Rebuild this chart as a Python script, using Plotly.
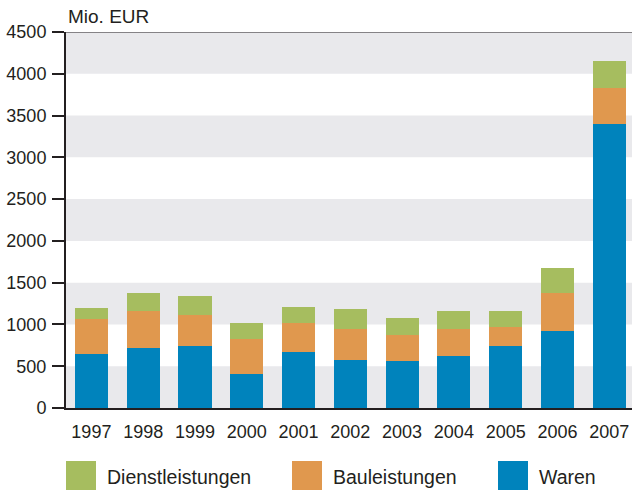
import plotly.graph_objects as go

# values in Mio. EUR
years = ["1997", "1998", "1999", "2000", "2001", "2002", "2003", "2004", "2005", "2006", "2007"]
waren = [650, 720, 745, 410, 675, 580, 565, 625, 745, 925, 3400]
bauleistungen = [410, 445, 370, 410, 345, 370, 310, 315, 230, 450, 430]
dienstleistungen = [140, 215, 230, 200, 190, 240, 205, 225, 180, 295, 320]
y_ticks = [0, 500, 1000, 1500, 2000, 2500, 3000, 3500, 4000, 4500]

series = [
    ("Waren", waren, "#0083BC"),
    ("Bauleistungen", bauleistungen, "#E0984E"),
    ("Dienstleistungen", dienstleistungen, "#A6BD5F"),
]

FONT = "Liberation Sans, Arial, sans-serif"
TEXT = "#231F20"

fig = go.Figure()
for name, vals, color in series:
    fig.add_trace(go.Bar(x=years, y=vals, name=name, marker_color=color,
                         marker_line_width=0, width=0.64, showlegend=False))

# grey bands behind the bars
for lo in y_ticks[:-1:2]:
    fig.add_shape(type="rect", xref="paper", yref="y", x0=0, x1=1, y0=lo, y1=lo + 500,
                  fillcolor="#E9E9EC", line_width=0, layer="below")

# thin line on top of the plot area
fig.add_shape(type="line", xref="paper", yref="y", x0=0, x1=1, y0=4500, y1=4500,
              line=dict(color=TEXT, width=1))

# hand-made legend with big swatches
legend_x = [66, 292, 498]
for (name, vals, color), lx in zip(reversed(series), legend_x):
    fig.add_shape(type="rect", xref="paper", yref="paper",
                  x0=(lx - 66) / 566, x1=(lx + 30 - 66) / 566,
                  y0=-(461 - 408) / 376, y1=-(495 - 408) / 376,
                  fillcolor=color, line_width=0)
    fig.add_annotation(text=name, xref="paper", yref="paper",
                       x=(lx + 39 - 66) / 566, y=-(477 - 408) / 376,
                       xanchor="left", yanchor="middle", showarrow=False,
                       font=dict(size=19.5, color=TEXT, family=FONT))

fig.add_annotation(text="Mio. EUR", xref="paper", yref="paper", x=0, y=1,
                   xanchor="left", yanchor="bottom", yshift=3, showarrow=False,
                   font=dict(size=19, color=TEXT, family=FONT))

fig.update_layout(
    barmode="stack",
    width=632, height=490,
    margin=dict(l=66, r=0, t=32, b=82),
    paper_bgcolor="white", plot_bgcolor="white",
    font=dict(family=FONT, size=18, color=TEXT),
    xaxis=dict(range=[-0.49, 10.44], showgrid=False, ticks="", showline=True,
               linecolor=TEXT, linewidth=2, ticklabelstandoff=6),
    yaxis=dict(range=[0, 4500], tickvals=y_ticks, showgrid=False, zeroline=False,
               ticks="outside", ticklen=12, tickwidth=2, tickcolor=TEXT,
               showline=True, linecolor=TEXT, linewidth=2, ticklabelstandoff=2),
)

fig.write_html("out.html", config={"displayModeBar": False},
               post_script="document.body.style.margin='0';document.body.style.overflow='hidden';")
